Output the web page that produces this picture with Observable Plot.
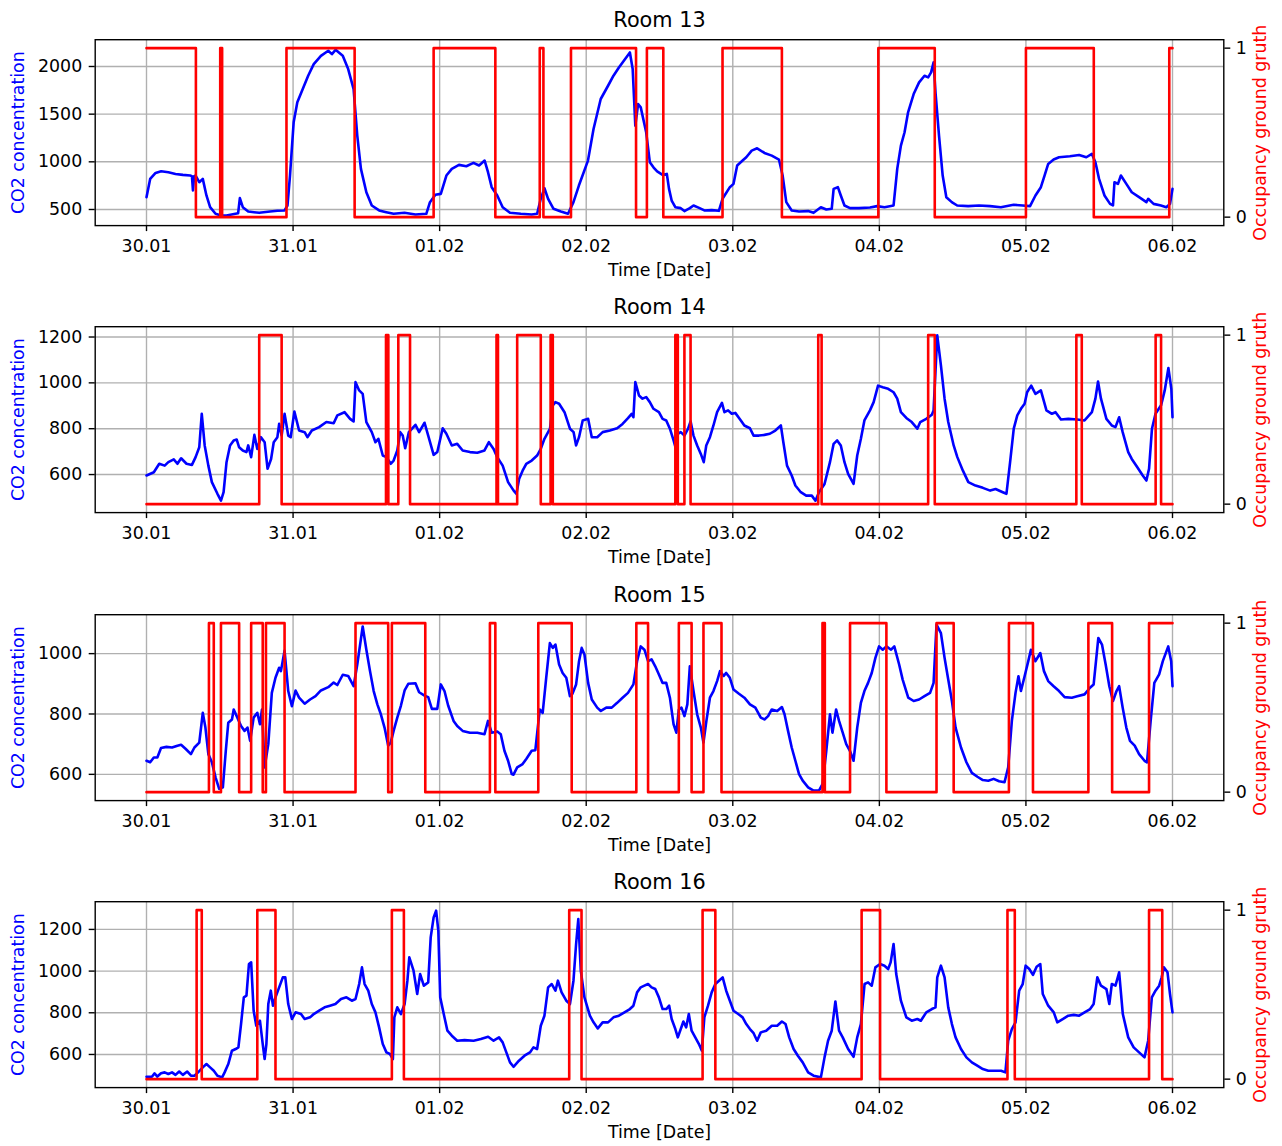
<!DOCTYPE html>
<html><head><meta charset="utf-8">
<script src="https://cdn.jsdelivr.net/npm/d3@7"></script>
<script src="https://cdn.jsdelivr.net/npm/@observablehq/plot@0.6"></script>
<style>
html,body{margin:0;padding:0;background:#fff;overflow:hidden;}
#root{position:relative;width:1282px;height:1146px;}
.panel{position:absolute;left:0;width:1282px;height:287px;}
.panel svg{position:absolute;left:0;top:0;}
</style></head><body><div id="root"></div>
<script>
// ---- data ----
const dateTicks = ["30.01","31.01","01.02","02.02","03.02","04.02","05.02","06.02"];
const roomNames = ["Room 13","Room 14","Room 15","Room 16"];
const co2TicksRoom13 = [500,1000,1500,2000];
const co2TicksRoom14 = [600,800,1000,1200];
const co2TicksRoom15 = [600,800,1000];
const co2TicksRoom16 = [600,800,1000,1200];
const occTicks = [0,1];
const co2Domains = [[331,2281],[434,1245],[513,1129],[441,1333]];

// [day offset from 30.01, CO2 ppm]
const co2Room13 = [[0,629],[0.025,821],[0.062,884],[0.1,901],[0.149,891],[0.198,873],[0.248,863],[0.298,856],[0.31,850],[0.317,699],[0.325,850],[0.335,856],[0.36,786],[0.384,821],[0.409,647],[0.434,524],[0.471,455],[0.508,437],[0.546,437],[0.607,455],[0.625,460],[0.637,619],[0.657,524],[0.694,479],[0.769,465],[0.843,479],[0.893,486],[0.942,490],[0.962,542],[0.979,856],[1.004,1414],[1.029,1624],[1.066,1763],[1.103,1903],[1.141,2025],[1.19,2112],[1.24,2165],[1.265,2130],[1.29,2175],[1.339,2112],[1.376,1973],[1.413,1763],[1.438,1275],[1.463,926],[1.5,681],[1.537,542],[1.587,490],[1.636,472],[1.686,455],[1.76,465],[1.835,448],[1.909,455],[1.934,577],[1.971,654],[2.008,664],[2.046,856],[2.083,926],[2.132,968],[2.182,954],[2.231,989],[2.269,961],[2.307,1013],[2.33,891],[2.355,734],[2.393,647],[2.43,524],[2.48,465],[2.554,455],[2.628,448],[2.665,455],[2.69,612],[2.715,723],[2.74,612],[2.777,507],[2.827,479],[2.876,455],[2.913,577],[2.95,751],[3.012,1013],[3.05,1345],[3.099,1659],[3.149,1798],[3.186,1903],[3.223,1990],[3.273,2095],[3.298,2147],[3.317,1973],[3.335,1379],[3.354,1606],[3.372,1571],[3.409,1310],[3.434,996],[3.46,940],[3.484,900],[3.521,863],[3.55,873],[3.565,716],[3.583,594],[3.608,524],[3.645,514],[3.67,483],[3.707,514],[3.732,542],[3.77,517],[3.806,490],[3.856,493],[3.905,486],[3.93,612],[3.98,734],[4.005,769],[4.03,961],[4.067,1013],[4.092,1048],[4.129,1118],[4.166,1142],[4.216,1093],[4.266,1065],[4.315,1024],[4.34,856],[4.365,577],[4.402,490],[4.452,479],[4.514,483],[4.551,465],[4.601,524],[4.638,500],[4.675,507],[4.688,716],[4.717,734],[4.737,647],[4.762,542],[4.8,514],[4.861,514],[4.936,521],[4.985,535],[5.035,524],[5.097,542],[5.122,926],[5.147,1170],[5.172,1310],[5.196,1519],[5.234,1711],[5.271,1833],[5.308,1903],[5.333,1886],[5.353,1938],[5.37,2043],[5.383,1729],[5.407,1275],[5.432,856],[5.457,629],[5.494,577],[5.531,542],[5.606,535],[5.68,542],[5.755,535],[5.829,524],[5.916,549],[5.978,542],[6.028,535],[6.065,647],[6.102,734],[6.127,856],[6.152,978],[6.189,1024],[6.226,1048],[6.3,1058],[6.363,1072],[6.412,1048],[6.45,1083],[6.474,996],[6.499,821],[6.536,647],[6.574,559],[6.594,542],[6.604,786],[6.628,769],[6.648,856],[6.685,769],[6.722,681],[6.772,629],[6.822,577],[6.834,612],[6.871,559],[6.921,542],[6.958,524],[6.983,559],[7.0,716]];

const co2Room14 = [[0,596],[0.05,610],[0.087,647],[0.124,639],[0.149,654],[0.186,666],[0.211,647],[0.236,671],[0.273,647],[0.31,642],[0.335,676],[0.36,719],[0.377,865],[0.397,727],[0.422,639],[0.446,567],[0.484,516],[0.508,486],[0.526,523],[0.546,654],[0.57,727],[0.595,749],[0.615,753],[0.632,719],[0.657,705],[0.682,698],[0.694,727],[0.714,676],[0.736,773],[0.756,712],[0.781,763],[0.806,741],[0.826,625],[0.85,668],[0.868,741],[0.893,763],[0.905,821],[0.922,770],[0.942,865],[0.967,770],[0.984,763],[1.009,875],[1.041,792],[1.079,785],[1.098,763],[1.128,792],[1.178,807],[1.227,829],[1.277,824],[1.302,858],[1.351,872],[1.389,843],[1.413,832],[1.426,1003],[1.451,967],[1.475,952],[1.5,829],[1.537,785],[1.562,741],[1.582,756],[1.612,683],[1.637,676],[1.666,647],[1.686,661],[1.711,705],[1.731,785],[1.748,770],[1.765,715],[1.79,785],[1.835,817],[1.86,785],[1.897,826],[1.922,770],[1.959,686],[1.984,698],[2.021,802],[2.046,778],[2.083,727],[2.12,734],[2.157,705],[2.207,698],[2.257,695],[2.306,705],[2.336,741],[2.368,712],[2.393,676],[2.43,639],[2.467,567],[2.505,530],[2.524,516],[2.542,581],[2.566,617],[2.591,647],[2.628,661],[2.665,683],[2.69,712],[2.715,756],[2.753,800],[2.772,902],[2.79,916],[2.815,909],[2.852,872],[2.889,800],[2.914,785],[2.931,727],[2.951,763],[2.976,836],[3.013,843],[3.038,763],[3.075,763],[3.112,785],[3.161,792],[3.211,802],[3.248,821],[3.285,846],[3.31,865],[3.322,850],[3.335,1003],[3.36,945],[3.384,931],[3.409,938],[3.434,916],[3.459,887],[3.496,872],[3.521,843],[3.546,836],[3.571,800],[3.596,749],[3.615,705],[3.625,778],[3.645,785],[3.67,770],[3.695,800],[3.712,832],[3.732,770],[3.757,727],[3.782,690],[3.802,654],[3.819,727],[3.844,763],[3.868,814],[3.893,872],[3.926,913],[3.943,872],[3.968,880],[3.993,865],[4.017,869],[4.055,836],[4.079,814],[4.117,802],[4.142,770],[4.179,770],[4.216,773],[4.253,778],[4.29,792],[4.328,814],[4.345,741],[4.37,639],[4.402,596],[4.427,552],[4.464,523],[4.501,508],[4.539,508],[4.564,486],[4.588,523],[4.626,559],[4.663,654],[4.688,734],[4.712,749],[4.737,727],[4.762,654],[4.787,603],[4.824,559],[4.849,683],[4.874,756],[4.898,836],[4.936,880],[4.961,916],[4.991,988],[5.023,981],[5.06,974],[5.097,959],[5.122,931],[5.147,872],[5.184,847],[5.221,829],[5.259,800],[5.279,829],[5.32,843],[5.358,861],[5.37,880],[5.395,1207],[5.42,1076],[5.445,931],[5.47,829],[5.507,727],[5.532,676],[5.57,617],[5.607,567],[5.656,552],[5.706,542],[5.756,530],[5.793,537],[5.842,523],[5.867,516],[5.892,654],[5.917,800],[5.941,858],[5.966,887],[5.991,909],[6.008,959],[6.036,988],[6.065,952],[6.102,967],[6.14,880],[6.177,865],[6.202,872],[6.239,840],[6.289,843],[6.35,840],[6.4,836],[6.45,872],[6.474,931],[6.492,1006],[6.512,931],[6.549,843],[6.586,814],[6.611,807],[6.636,850],[6.66,785],[6.698,698],[6.722,668],[6.76,632],[6.797,596],[6.822,574],[6.84,625],[6.86,800],[6.884,865],[6.922,902],[6.947,967],[6.972,1065],[6.992,974],[7.0,850]];

const co2Room15 = [[0,645],[0.025,640],[0.05,656],[0.074,656],[0.099,687],[0.136,691],[0.174,689],[0.211,695],[0.236,698],[0.268,684],[0.303,667],[0.327,689],[0.36,705],[0.384,804],[0.402,755],[0.422,667],[0.446,640],[0.471,590],[0.496,552],[0.521,557],[0.541,678],[0.558,771],[0.583,782],[0.595,815],[0.62,788],[0.645,760],[0.669,744],[0.689,755],[0.707,711],[0.731,788],[0.756,804],[0.774,766],[0.788,815],[0.806,623],[0.831,700],[0.855,870],[0.88,920],[0.905,953],[0.917,942],[0.942,1010],[0.967,876],[0.992,826],[1.017,878],[1.041,854],[1.079,834],[1.116,848],[1.153,859],[1.19,878],[1.24,889],[1.277,904],[1.302,896],[1.339,930],[1.376,926],[1.413,892],[1.438,964],[1.475,1090],[1.5,1013],[1.525,942],[1.55,876],[1.575,832],[1.599,799],[1.624,755],[1.649,695],[1.666,705],[1.686,744],[1.711,788],[1.736,828],[1.761,878],[1.786,900],[1.835,902],[1.86,872],[1.897,861],[1.922,856],[1.947,817],[1.984,817],[2.008,898],[2.033,876],[2.058,828],[2.095,777],[2.12,760],[2.157,744],[2.207,738],[2.257,738],[2.306,733],[2.33,777],[2.355,738],[2.393,742],[2.417,733],[2.442,678],[2.467,645],[2.492,601],[2.504,599],[2.529,623],[2.566,634],[2.591,651],[2.628,678],[2.653,680],[2.683,815],[2.703,804],[2.727,920],[2.752,1035],[2.772,1019],[2.79,1030],[2.815,964],[2.839,936],[2.864,920],[2.889,859],[2.906,867],[2.931,898],[2.951,975],[2.969,1019],[2.988,997],[3.013,903],[3.038,848],[3.075,821],[3.1,810],[3.137,821],[3.174,821],[3.211,837],[3.248,854],[3.285,870],[3.322,898],[3.347,975],[3.372,1024],[3.397,1013],[3.422,975],[3.446,981],[3.471,958],[3.496,931],[3.521,903],[3.546,903],[3.571,854],[3.596,766],[3.615,738],[3.632,815],[3.65,821],[3.67,793],[3.69,832],[3.707,958],[3.732,876],[3.757,799],[3.782,755],[3.8,705],[3.82,777],[3.844,854],[3.868,876],[3.893,909],[3.913,942],[3.938,926],[3.955,936],[3.98,920],[4.005,881],[4.042,867],[4.079,854],[4.117,832],[4.154,821],[4.191,788],[4.216,782],[4.241,793],[4.266,815],[4.303,810],[4.335,823],[4.353,799],[4.377,744],[4.402,689],[4.427,645],[4.452,601],[4.477,579],[4.514,557],[4.551,546],[4.588,546],[4.613,568],[4.638,678],[4.663,799],[4.68,738],[4.705,815],[4.725,777],[4.75,738],[4.774,700],[4.799,678],[4.824,645],[4.849,755],[4.874,837],[4.898,876],[4.923,903],[4.948,936],[4.973,986],[4.998,1024],[5.023,1013],[5.048,1024],[5.08,1013],[5.102,1024],[5.135,964],[5.159,914],[5.197,854],[5.234,843],[5.271,848],[5.308,859],[5.346,870],[5.37,903],[5.39,1096],[5.42,1068],[5.445,986],[5.47,914],[5.495,843],[5.52,755],[5.557,689],[5.594,640],[5.631,605],[5.669,592],[5.706,581],[5.743,579],[5.78,585],[5.817,577],[5.854,574],[5.879,623],[5.904,777],[5.929,870],[5.949,925],[5.966,876],[5.991,925],[6.016,975],[6.034,1013],[6.065,975],[6.098,1002],[6.123,942],[6.152,909],[6.189,892],[6.226,876],[6.264,856],[6.313,854],[6.35,859],[6.4,865],[6.437,887],[6.462,898],[6.494,1052],[6.519,1030],[6.544,964],[6.569,892],[6.594,843],[6.618,876],[6.636,892],[6.66,821],[6.685,755],[6.71,711],[6.742,695],[6.772,667],[6.809,645],[6.826,640],[6.851,777],[6.876,903],[6.909,931],[6.934,975],[6.971,1024],[6.991,975],[7.0,892]];

const co2Room16 = [[0,493],[0.037,493],[0.055,509],[0.074,494],[0.099,510],[0.124,514],[0.149,506],[0.174,514],[0.198,502],[0.223,518],[0.248,502],[0.278,518],[0.303,498],[0.327,498],[0.352,514],[0.384,538],[0.409,554],[0.434,538],[0.459,522],[0.484,498],[0.516,490],[0.533,514],[0.558,554],[0.583,618],[0.608,626],[0.627,634],[0.645,746],[0.664,874],[0.682,882],[0.699,1034],[0.714,1042],[0.731,810],[0.749,738],[0.774,762],[0.793,650],[0.806,578],[0.818,650],[0.831,842],[0.848,906],[0.863,834],[0.88,874],[0.905,922],[0.93,970],[0.947,970],[0.967,842],[0.992,770],[1.017,802],[1.054,794],[1.079,770],[1.116,778],[1.141,794],[1.178,810],[1.215,826],[1.252,834],[1.289,842],[1.327,866],[1.364,874],[1.401,858],[1.426,866],[1.451,938],[1.47,1018],[1.488,938],[1.513,906],[1.537,842],[1.562,802],[1.587,730],[1.612,650],[1.637,610],[1.661,602],[1.681,578],[1.691,778],[1.711,826],[1.736,794],[1.761,842],[1.78,954],[1.793,1066],[1.822,1002],[1.847,890],[1.867,986],[1.892,930],[1.922,946],[1.939,1162],[1.959,1258],[1.976,1290],[1.991,1194],[2.004,874],[2.028,794],[2.053,714],[2.083,690],[2.12,666],[2.17,669],[2.232,666],[2.281,674],[2.331,685],[2.368,666],[2.405,682],[2.43,658],[2.455,610],[2.48,562],[2.504,541],[2.541,570],[2.579,594],[2.616,610],[2.64,634],[2.665,626],[2.69,738],[2.715,786],[2.74,922],[2.765,938],[2.79,906],[2.807,954],[2.832,898],[2.864,858],[2.889,842],[2.913,954],[2.931,1130],[2.946,1250],[2.963,1002],[2.988,874],[3.025,786],[3.05,754],[3.079,725],[3.112,754],[3.149,754],[3.186,778],[3.223,786],[3.261,802],[3.298,818],[3.322,834],[3.347,898],[3.372,922],[3.397,930],[3.422,938],[3.446,922],[3.471,914],[3.496,874],[3.521,818],[3.546,818],[3.566,834],[3.583,770],[3.608,722],[3.625,682],[3.645,722],[3.663,758],[3.682,730],[3.7,794],[3.719,714],[3.744,682],[3.769,650],[3.789,618],[3.806,778],[3.831,834],[3.856,898],[3.881,938],[3.906,954],[3.931,970],[3.955,906],[3.98,858],[4.005,810],[4.037,794],[4.067,778],[4.092,746],[4.117,722],[4.142,702],[4.166,666],[4.191,706],[4.228,714],[4.266,738],[4.303,738],[4.335,758],[4.36,746],[4.385,682],[4.415,626],[4.444,594],[4.477,562],[4.514,514],[4.551,498],[4.601,490],[4.626,586],[4.65,666],[4.675,714],[4.7,854],[4.725,714],[4.75,682],[4.787,626],[4.824,589],[4.849,682],[4.874,746],[4.899,938],[4.923,946],[4.948,930],[4.973,1018],[5.005,1034],[5.035,1026],[5.06,1010],[5.077,1042],[5.097,1130],[5.115,986],[5.147,858],[5.184,778],[5.221,762],[5.259,770],[5.283,762],[5.32,802],[5.358,818],[5.383,826],[5.395,970],[5.42,1026],[5.445,970],[5.47,826],[5.495,746],[5.52,682],[5.557,626],[5.594,586],[5.631,562],[5.668,546],[5.706,530],[5.743,522],[5.78,522],[5.83,522],[5.86,514],[5.879,666],[5.904,722],[5.929,754],[5.954,906],[5.978,938],[5.998,1026],[6.023,1010],[6.048,982],[6.073,1021],[6.098,1034],[6.115,890],[6.152,834],[6.19,802],[6.214,754],[6.251,770],[6.289,786],[6.326,790],[6.363,786],[6.4,802],[6.438,818],[6.462,842],[6.487,970],[6.512,930],[6.549,914],[6.569,842],[6.586,938],[6.611,930],[6.636,994],[6.661,794],[6.698,682],[6.735,634],[6.772,610],[6.809,586],[6.834,666],[6.859,874],[6.884,906],[6.909,930],[6.926,970],[6.941,1018],[6.966,994],[6.983,890],[7.0,802]];

// [day offset, occupancy state] (state holds until next entry)
const occRoom13 = [[0,1],[0.337,0],[0.503,1],[0.516,0],[0.955,1],[1.42,0],[1.959,1],[2.38,0],[2.683,1],[2.708,0],[2.896,1],[3.34,0],[3.414,1],[3.526,0],[3.93,1],[4.335,0],[4.993,1],[5.378,0],[6.0,1],[6.463,0],[6.978,1],[7,1]];
const occRoom14 = [[0,0],[0.769,1],[0.922,0],[1.634,1],[1.65,0],[1.718,1],[1.798,0],[2.388,1],[2.398,0],[2.529,1],[2.69,0],[2.757,1],[2.772,0],[3.608,1],[3.625,0],[3.67,1],[3.712,0],[4.583,1],[4.606,0],[5.333,1],[5.378,0],[6.344,1],[6.381,0],[6.885,1],[6.922,0],[7,0]];
const occRoom15 = [[0,0],[0.426,1],[0.459,0],[0.508,1],[0.632,0],[0.714,1],[0.793,0],[0.815,1],[0.942,0],[1.426,1],[1.649,0],[1.674,1],[1.902,0],[2.343,1],[2.38,0],[2.673,1],[2.901,0],[3.342,1],[3.422,0],[3.632,1],[3.719,0],[3.8,1],[3.923,0],[4.612,1],[4.628,0],[4.8,1],[5.048,0],[5.39,1],[5.507,0],[5.884,1],[6.048,0],[6.426,1],[6.588,0],[6.84,1],[7,1]];
const occRoom16 = [[0,0],[0.342,1],[0.377,0],[0.756,1],[0.88,0],[1.674,1],[1.756,0],[2.884,1],[2.968,0],[3.794,1],[3.881,0],[4.879,1],[5.005,0],[5.874,1],[5.924,0],[6.84,1],[6.93,0],[7,0]];

const leftLabel = "CO2 concentration";
const rightLabel = "Occupancy ground gruth";
const xLabel = "Time [Date]";

// ---- build ----
const rooms = [
  {name: roomNames[0], co2: co2Room13, occ: occRoom13, ticks: co2TicksRoom13, domain: co2Domains[0]},
  {name: roomNames[1], co2: co2Room14, occ: occRoom14, ticks: co2TicksRoom14, domain: co2Domains[1]},
  {name: roomNames[2], co2: co2Room15, occ: occRoom15, ticks: co2TicksRoom15, domain: co2Domains[2]},
  {name: roomNames[3], co2: co2Room16, occ: occRoom16, ticks: co2TicksRoom16, domain: co2Domains[3]}
];

const W = 1282, H = 287;
const MT = 39.2, PH = 185.9, MB = H - MT - PH, ML = 94.7, MR = W - 1223.3;
const FONT = "DejaVu Sans";
const FS = 17.4;
const BLUE = "#0000ff", RED = "#ff0000", GRID = "#b0b0b0";
const LW = 2.6;
const xTickPos = dateTicks.map((_, i) => i);
const xDomain = [-0.35, 7.35];
const root = document.getElementById("root");

rooms.forEach((r, i) => {
  const div = document.createElement("div");
  div.className = "panel";
  div.style.top = (287.33 * i) + "px";
  root.appendChild(div);

  const common = {
    width: W, height: H, marginTop: MT, marginBottom: MB, marginLeft: ML, marginRight: MR,
    style: {fontFamily: FONT, fontSize: FS + "px", background: "transparent", overflow: "visible", maxWidth: "none"}
  };

  const base = Plot.plot({
    ...common,
    x: {type: "linear", domain: xDomain},
    y: {type: "linear", domain: r.domain},
    marks: [
      Plot.gridX(xTickPos, {stroke: GRID, strokeOpacity: 1, strokeWidth: 1.4}),
      Plot.gridY(r.ticks, {stroke: GRID, strokeOpacity: 1, strokeWidth: 1.4}),
      Plot.line(r.co2, {x: d => d[0], y: d => d[1], stroke: BLUE, strokeWidth: LW, strokeLinejoin: "round"}),
      Plot.frame({stroke: "black", strokeWidth: 1.4}),
      Plot.axisX(xTickPos, {anchor: "bottom", tickSize: 6, tickPadding: 8, tickFormat: d => dateTicks[d], label: null, color: "black", strokeWidth: 1.4, fontSize: FS}),
      Plot.axisY(r.ticks, {anchor: "left", tickSize: 6, tickPadding: 7, tickFormat: d => String(d), label: null, color: "black", strokeWidth: 1.4, fontSize: FS}),
      Plot.text([r.name], {text: d => d, frameAnchor: "top", dy: -19.3, lineAnchor: "middle", textAnchor: "middle", fontSize: 20.8, fill: "black"}),
      Plot.text([xLabel], {text: d => d, frameAnchor: "bottom", dy: 45, lineAnchor: "middle", textAnchor: "middle", fontSize: FS, fill: "black"}),
      Plot.text([leftLabel], {text: d => d, frameAnchor: "left", dx: -76.7, rotate: -90, lineAnchor: "middle", textAnchor: "middle", fontSize: FS, fill: BLUE})
    ]
  });
  div.appendChild(base);

  const over = Plot.plot({
    ...common,
    x: {type: "linear", domain: xDomain, axis: null},
    y: {type: "linear", domain: [-0.05, 1.05]},
    marks: [
      Plot.line(r.occ, {x: d => d[0], y: d => d[1], curve: "step-after", stroke: RED, strokeWidth: LW}),
      Plot.axisY(occTicks, {anchor: "right", tickSize: 6, tickPadding: 6, tickFormat: d => String(d), label: null, color: "black", strokeWidth: 1.4, fontSize: FS}),
      Plot.text([rightLabel], {text: d => d, frameAnchor: "right", dx: 36.7, rotate: -90, lineAnchor: "middle", textAnchor: "middle", fontSize: FS, fill: RED})
    ]
  });
  div.appendChild(over);
});
</script>
</body></html>
